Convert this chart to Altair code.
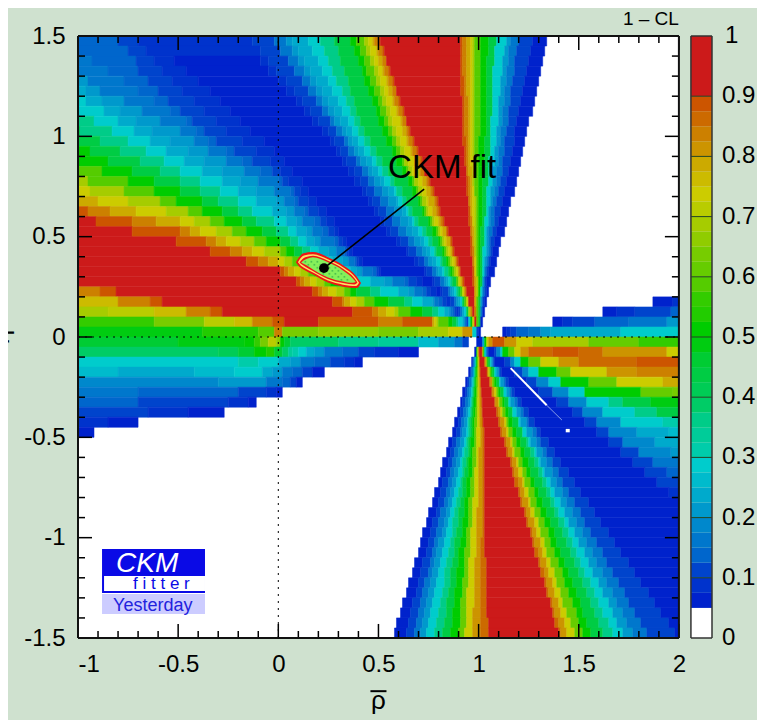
import re
import altair as alt
import numpy as np
import pandas as pd

FONT = "Liberation Sans"
BG = "#cfe1cf"

CODES = list("abcdefghijklmnopqrstuvwxyzABCDEFGHR")
COLORS = ["#0022cc","#0033cc","#0044cc","#0066cc","#0077cc","#0088cc","#0099cc","#00aacc","#00bbcc","#00cccc",
          "#00ccaa","#00cc99","#00cc88","#00cc66","#00cc55","#00cc44","#00cc33","#00cc11","#00cc00","#22cc00",
          "#33cc00","#55cc00","#66cc00","#77cc00","#90cc00","#a6cc00","#b9cc00","#cccc00","#ccbb00","#ccaa00",
          "#cc9400","#cc8000","#cc6a00","#cc5500","#cc1a1a"]
BAR_LOWS = [0.05+0.025*i for i in range(34)] + [0.9]
BAR_HIGHS = [0.05+0.025*(i+1) for i in range(34)] + [1.0]

# each row: level letter followed by the x (in hundredths) where that level ends; "." is white
ROWS = [
"d-80 c-70 b-13 c-2 e4 g7 h15 j21 m28 p36 s39 v43 z45 B47 D48 F50 H51 R91 H92 F94 D96 B97 z98 v101 s105 p109 j114 g116 e120 c127 a134",
"d-75 c-66 b-9 c1 e7 g10 h17 j23 m30 p38 s41 v44 z46 B49 D50 F52 H53 R91 H92 F94 D96 B97 z98 v101 s105 p108 j113 g115 e119 c126 a133",
"e-93 d-71 c-62 b-52 a-9 b-5 c5 e10 g13 h20 j25 m31 p40 s43 v46 z48 B50 D52 F54 H54 R91 H92 F94 D96 B97 z98 v101 s104 p108 j112 g115 e118 c125 a132",
"e-85 d-70 c-58 b-46 a-5 b-1 c8 e13 g16 h22 j27 m33 p42 s44 v48 z50 B52 D53 F55 H56 R91 H92 F94 D96 B97 z98 v101 s104 p107 j112 g114 e118 c124 a131",
"g-95 e-77 d-65 c-53 b-40 a0 b4 c12 e16 g19 h25 j29 m35 p43 s46 v49 z51 B54 D55 F57 H58 R91 H93 F94 D96 B97 z98 v101 s104 p107 j111 g114 e117 c123 a130",
"h-96 g-89 e-70 d-60 c-48 b-34 a4 b8 c15 e19 g22 h27 j32 m36 p45 s48 v51 z53 B55 D57 F59 H59 R91 H93 F94 D96 B97 z98 v101 s104 p107 j111 g113 e116 c122 a129",
"j-96 h-88 g-77 e-62 d-55 c-42 b-29 a9 b12 c19 e22 g25 h30 j34 m38 p47 s50 v52 z54 B57 D58 F60 H61 R92 H93 F95 D96 B97 z98 v101 s104 p107 j110 g113 e116 c121 a128",
"j-87 h-79 g-68 e-54 d-49 c-37 b-24 a13 b16 c22 e25 g28 h32 j36 m39 p49 s51 v54 z56 B59 D60 F62 H63 R92 H93 F95 D96 B97 z98 v101 s104 p107 j110 g112 e115 c120 a127",
"m-92 j-80 h-71 g-59 e-46 d-43 c-31 b-19 a17 b20 c26 e28 g31 h35 j38 m41 p50 s53 v55 z57 B61 D62 F64 H64 R92 H93 F95 D96 B97 z98 v101 s104 p106 j110 g112 e115 c119 a125",
"p-99 m-83 j-72 h-63 g-49 e-41 d-37 c-26 b-14 a22 b25 c29 e32 g34 h37 j40 m43 p52 s55 v57 z59 B62 D64 F65 H66 R92 H93 F95 D96 B97 z98 v101 s104 p106 j109 g111 e114 c118 a124",
"p-89 m-75 j-64 h-54 g-42 e-35 d-31 c-18 b-7 a26 b28 c33 e35 g37 h40 j43 m46 p54 s57 v59 z61 B64 D65 F67 H68 R92 H94 F95 D96 B97 z98 v100 s103 p106 j109 g111 e113 c118 a123",
"s-94 p-79 m-66 j-56 h-45 g-35 e-26 d-22 c-11 b-2 a29 b31 c35 e38 g40 h43 j46 m49 p57 s59 v61 z63 B66 D67 F69 H70 R93 H94 F95 D96 B97 z98 v100 s103 p106 j108 g110 e113 c117 a122",
"s-85 p-69 m-57 j-47 h-37 g-26 e-18 d-13 c-4 b3 a32 b34 c39 e41 g44 h47 j49 m52 p59 s62 v63 z65 B68 D69 F71 H72 R93 H94 F95 D96 B97 z98 v100 s103 p105 j108 g110 e112 c116 a121",
"v-88 s-73 p-59 m-49 j-38 h-28 g-17 e-9 d-3 c1 b7 a35 b38 c42 e45 g47 h50 j52 m55 p62 s64 v65 z67 B70 D71 F73 H73 R94 H94 F95 D97 B97 z98 v100 s103 p105 j107 g109 e112 c115 a120",
"z-95 v-75 s-62 p-49 m-39 j-28 h-19 g-10 e0 d2 c5 b12 a38 b41 c45 e48 g51 h53 j56 m58 p65 s67 v68 z70 B72 D74 F75 H76 R94 H95 F96 D97 B97 z98 v100 s102 p105 j107 g109 e111 c114 a119",
"B-94 z-77 v-62 s-49 p-39 m-29 j-20 h-11 g-2 e6 d8 c11 b15 a42 b44 c48 e52 g55 h58 j59 m62 p67 s69 v70 z72 B74 D76 F77 H78 R94 H95 F96 D97 B98 z98 v100 s102 p104 j106 g108 e110 c113 a118",
"D-90 B-75 z-59 v-51 s-38 p-30 m-20 j-11 h-1 g3 e8 d10 c15 b19 a45 b47 c51 e55 g59 h60 j62 m64 p70 s71 v72 z74 B75 D78 F79 H80 R95 H95 F96 D97 B98 z99 v100 s102 p104 j106 g107 e109 c112 a116",
"H-95 F-84 D-71 B-56 z-45 v-38 s-28 p-20 m-13 j-3 h4 g8 e13 d15 c20 b24 a48 b50 c54 e58 g62 h64 j65 m67 p72 s73 v74 z75 B77 D79 F80 H81 R95 H96 F96 D97 B98 z99 v100 s102 p104 j105 g106 e108 c111 a115",
"R-91 H-73 F-61 D-49 B-42 z-34 v-27 s-18 p-11 m-2 j4 h9 g12 e18 d21 c24 b28 a51 b53 c57 e61 g65 h67 j68 m70 p75 s76 v77 z78 B80 D81 F82 H83 R95 H96 F97 D97 B98 z99 v100 s102 p103 j105 g106 e108 c110 a114",
"R-73 H-49 F-44 D-39 B-31 z-23 v-16 s-8 p-1 m5 j9 h14 g17 e22 d25 c28 b30 a54 b56 c60 e64 g67 h70 j72 m74 p77 s79 v80 z81 B82 D84 F84 H85 R96 H96 F97 D98 B98 z99 v100 s101 p103 j104 g105 e107 c109 a113",
"R-51 H-36 F-31 D-26 B-19 z-12 v-6 s1 p6 m10 j14 h18 g21 e28 d30 c32 b34 a59 b61 c65 e68 g71 h73 j75 m77 p80 s81 v82 z83 B84 D86 F86 H87 R96 H97 F97 D98 B98 z99 v100 s101 p103 j104 g105 e106 c108 a111",
"R-34 H-24 F-18 D-13 B-7 z1 v4 s8 p12 m16 j20 h25 g29 e33 d34 c35 b37 a64 b65 c69 e72 g74 h76 j78 m79 p82 s83 v84 z85 B86 D87 F87 H88 R96 H97 F98 D98 B98 z99 v100 s101 p102 j104 g105 e106 c107 a110",
"R-16 H-10 F-5 D0 B3 z7 v11 s15 p19 m22 j27 h32 g35 e38 d39 c40 b42 a68 b70 c73 e75 g77 h79 j81 m82 p84 s85 v86 z87 B88 D89 F89 H90 R97 H97 F98 D98 B99 z99 v100 s101 p102 j103 g104 e105 c106 a109",
"R1 H3 F5 D8 B11 z15 v18 s23 p27 m30 j36 h39 g42 e47 d49 c50 b51 a73 b74 c77 e79 g80 h82 j83 m85 p86 s87 v88 z89 B90 D90 F91 H91 R97 H98 F98 D98 B99 z99 v100 s101 p102 j103 g103 e104 c105 a108",
"R9 H11 F13 D16 B19 z23 v26 s31 p34 m38 j46 h53 g57 e63 d65 c69 b72 a77 b78 c81 e83 g84 h85 j86 m87 p89 s89 v90 z90 B91 D92 F92 H93 R97 H98 F98 D99 B99 z100 v100 s101 p102 j102 g103 e103 c104 a106",
"F-89 H-81 R17 H20 F22 D25 B29 z33 v36 s39 p46 m51 j60 h65 g68 e72 d74 c76 b79 a81 b82 c85 e86 g87 h88 j89 m90 p91 s91 v92 z92 B93 D93 F94 H94 R98 H98 F98 D99 B99 z100 v100 s101 p101 j102 g102 e103 c104 a105",
"C-80 F-64 H-58 R27 H32 F33 D36 B39 z43 v48 s55 p63 m67 j72 h77 g78 e80 d82 c84 b86 c88 e89 g90 h91 j92 m92 p93 s93 v94 z94 B95 D95 F95 H95 R98 H98 F98 D99 B99 z99 v100 s100 p101 j101 g102 e102 c103 a104 .187 a197 b200",
"z-85 A-62 C-46 F-34 H-28 R37 H47 F50 D54 B58 z60 v66 s72 p77 m80 j83 h85 g86 e87 d88 c89 b90 c91 e92 g92 h93 j94 m94 p95 s95 v95 z96 B96 D96 F97 H97 R98 H98 F99 D99 B99 z99 v100 s100 p101 j101 g101 e102 c102 a103 .162 a169 b178 c196 d200",
"u-62 x-37 A-22 C-13 F-3 H3 R20 H50 F62 H77 D78 B79 z80 v85 s87 p89 m90 j92 h93 e94 c95 j96 s97 B98 R99 v100 p101 a102 .137 a142 b147 c158 d175 e194 g200",
"r-38 t-10 v-2 F2 x20 y50 x70 z85 B92 E97 j99 c100 a101 .112 a114 b116 c119 d125 e131 g136 h171 j200",
"q-50 r-17 s-12 u-9 x-5 A-1 y1 s3 q6 n30 m50 l70 i80 g88 e92 c95 .99 a102 h103 s104 B105 E107 H113 E119 B127 z155 w180 u200",
"n-30 o-20 q-12 s-6 t-2 q2 n5 l7 k10 j14 h18 g23 e32 d40 c48 b60 a70 .98 a99 s99.5 B100 E100.3 R101.8 E102.2 w102.7 s103 j103.8 e104.4 c105 a108 c109 f111 j112 s115 w118 B121 E125 G137 H150 G162 E194 B200",
"j-20 k-10 j0 h6 g11 e18 d26 c33 b38 a42 .96.5 a97 c97.5 e98 g98.4 j98.6 m98.9 p99.1 s99.5 w99.8 B100.2 E100.5 G100.7 R103 G103.3 E103.8 B104 w104.5 s105 p105.8 j106.3 g107 e107.5 c108 a113 c116 f118 j121 s125 w131 B140 E150 G179 H200",
"i-80 h-42 i-22 j-8 h-3 g2 e7 d12 c17 a23 .95 a95.8 c96.5 e97.2 g97.7 j98 m98.4 p98.8 s99.3 w99.8 B100.2 E100.7 G101 R104.2 G104.6 E105 B105.6 w106.3 s107 p108 j108.8 g110 e110.5 c111.5 a118 c122 f125 j130 s139 w146 B164 E179 F200",
"f-30 g-6 e2 d6 c9 a12 .93.5 a94.6 c95.5 e96.4 g97 j97.5 m98 p98.4 s99 w99.7 B100.3 E101 G101.2 R105.4 G106 E106.8 B107 w108 s109 p110.4 j111 g112.6 e113.5 c115 a124 c129 f135 j141 s155 w169 B192 D200",
"e-70 d-20 c-6 b-1 a2 .92 a93.5 c94.5 e95.6 g96.4 j97 m97.5 p98 s99 w99.6 B100.4 E101 G101.5 R106.6 G107 E108 B109 w110 s111 p112.6 j114 g115.4 e116.5 c118 a130 c137 f145 j153 s181 w197 x200",
"d-70 c-25 b-15 a-11 .91 a92 c93.5 e95 g96 j96.5 m97 p97.7 s98.7 w99.5 B100.5 E101.3 G101.8 R108 G108.5 E110 B110.4 w112 s113 p115 j116 g118 e119.5 c121.5 a139 c145 f154 j165 m172 p186 r200",
"c-65 b-45 a-27 .89.5 a91 c92.5 e94 g95 j96 m96.6 p97.4 s98.5 w99.5 B100.5 E101.5 G102 R109 G110 E111 B112 w113.5 s115 p117 j119 g121 e122.5 c125 a147 c152 f162 j178 m189 p200",
"b-85 a-70 .88 a90 c91.5 e93 g94.5 j95 m96 p97 s98 w99.4 B100.6 E101.7 G102.3 R110 G111 E113 B114 w115 s117 p120 j121 g124 e125 c128 a153 c159 f171 j192 k200",
"a-92 .87 a89 c91 e92 g94 j95 m96 p97 s98 w99 B101 E102 G103 R111 G112 E114 B115 w117 s119 p122 j124 g127 e129 c131 a159 c165 f179 h195 i200",
".85 a87 c89 e91 g93 j94 m95 p96 s98 w99 B101 E102 G103 R113 G114 E116 B117 w119 s121 p124 m125 j126 g129 e131 c135 a165 c172 f188 h200",
".84 a86 c88 e90 g92 j93 m95 p96 s97 w99 B100 E102 G103 R114 G115 E117 B118 w121 s123 p126 m128 j129 g132 e134 c138 a171 c180 f196 g200",
".82 a85 c87 e89 g91 j92 m94 p95 s97 w99 B100 E102 G103 R116 G117 E119 B120 w122 s125 p128 m130 j131 g134 e137 c141 a177 c187 e200",
".81 a84 c86 e88 g90 j92 m93 p95 s97 w98 B100 E102 G103 R117 G118 E120 B122 w124 s126 p130 m132 j133 g137 e140 c145 a183 c194 d200",
".80 a82 c85 e87 g89 j91 m92 p94 s96 w98 B100 E102 G103 R118 G120 E122 B123 w126 s128 p132 m134 j136 g139 e142 c148 a189 c200",
".78 a81 c84 e86 g88 j90 m92 p94 s96 w98 B100 E102 G103 R120 G121 E123 B125 w128 s130 p134 m136 j138 g142 e145 c151 a195 b200",
".77 a80 c83 e85 g87 j89 m91 p93 s95 w97 B100 E102 G103 R121 G122 E125 B126 w129 s132 p136 m138 j141 g144 e148 c155 a200",
".75 a79 c81 e84 g86 j88 m90 p93 s95 w97 B99 E102 G103 R123 G124 E126 B128 w131 s134 p138 m140 j143 g147 e151 c158 a200",
".74 a77 c80 e83 g85 j87 m90 p92 s95 w97 B99 E102 G103 R124 G125 E128 B130 w133 s136 p140 m143 j145 g149 e153 c161 a200",
".72 a76 c79 e82 g84 j87 m89 p92 s94 w96 B99 E102 G103 R126 G127 E129 B131 w135 s138 p142 m145 j148 g152 e156 c165 a200",
".71 a75 c78 e80 g83 j86 m88 p91 s94 w96 B99 E101 G103 R127 G128 E131 B133 w136 s139 p144 m147 j150 g154 e159 c168 a200",
".70 a74 c77 e79 g82 j85 m88 p90 s93 w96 B99 E101 G103 R128 G130 E132 B134 w138 s141 p146 m149 j153 g157 e162 c171 a200",
".68 a72 c76 e78 g81 j84 m87 p90 s93 w95 B98 E101 G104 R130 G131 E134 B136 w140 s143 p148 m151 j155 g159 e164 c175 a200",
".67 a71 c75 e77 g80 j83 m86 p89 s93 w95 B98 E101 G104 R131 G133 E135 B138 w142 s145 p150 m153 j157 g162 e167 c178 a200",
".65 a70 c73 e76 g79 j83 m86 p89 s92 w95 B98 E101 G104 R133 G134 E137 B139 w143 s147 p152 m156 j160 g164 e170 c181 a200",
".64 a69 c72 e75 g78 j82 m85 p88 s92 w94 B98 E101 G104 R134 G135 E138 B141 w145 s149 p154 m158 j162 g167 e173 c185 a200",
".62 a67 c71 e74 g77 j81 m84 p88 s91 w94 B98 E101 G104 R136 G137 E140 B142 w147 s151 p156 m160 j165 g169 e175 c188 a200",
".61 a66 c70 e73 g76 j80 m84 p87 s91 w94 B97 E101 G104 R137 G138 E141 B144 w149 s152 p158 m162 j167 g172 e178 c191 a200",
".59 a65 c69 e72 g75 j79 m83 p87 s91 w94 B97 E101 G105 R138 G140 E143 B146 w150 s154 p160 m165 j169 g174 e181 c195 a200",
".58 a64 c68 e71 g74 j78 m82 p86 s90 w93 B97 E101 G105 R140 G141 E144 B148 w152 s156 p162 m167 j172 g177 e184 c198 a200",
]

X_LABELS = [-1, -0.5, 0, 0.5, 1, 1.5, 2]
Y_LABELS = [-1.5, -1, -0.5, 0, 0.5, 1, 1.5]
X_MINOR = [-0.9,-0.8,-0.7,-0.6,-0.4,-0.3,-0.2,-0.1,0.1,0.2,0.3,0.4,0.6,0.7,0.8,0.9,1.1,1.2,1.3,1.4,1.6,1.7,1.8,1.9]
Y_MINOR = [-1.4,-1.3,-1.2,-1.1,-0.9,-0.8,-0.7,-0.6,-0.4,-0.3,-0.2,-0.1,0.1,0.2,0.3,0.4,0.6,0.7,0.8,0.9,1.1,1.2,1.3,1.4]
BAR_LABELS = ["0","0.1","0.2","0.3","0.4","0.5","0.6","0.7","0.8","0.9","1"]

# contour around the fit: x, upper and lower edge of each ring
RING_X = [[.088,.108,.123,.173,.248,.323,.393,.413],[.098,.113,.128,.173,.248,.323,.388,.403],
          [.106,.120,.135,.173,.248,.323,.380,.395],[.114,.128,.143,.173,.248,.323,.372,.387]]
RING_UP = [[.373,.403,.416,.423,.398,.358,.299,.269],[.372,.395,.406,.413,.388,.348,.293,.270],
           [.371,.388,.397,.405,.380,.340,.293,.272],[.370,.382,.390,.397,.372,.332,.292,.274]]
RING_LO = [[.373,.348,.338,.311,.271,.251,.244,.269],[.372,.355,.345,.321,.281,.261,.254,.270],
           [.371,.360,.350,.329,.289,.269,.262,.272],[.370,.364,.356,.337,.297,.277,.270,.274]]
RING_COL = ["#ee1515","#ffe066","#ee1515","#86f05a"]

xs = alt.Scale(domain=[-1, 2.1652], nice=False, zero=False)
ys = alt.Scale(domain=[-1.5, 1.5], nice=False, zero=False)
cs = alt.Scale(domain=CODES, range=COLORS)

x_axis = alt.Axis(values=X_LABELS, labelExpr="''+datum.value", ticks=False, domain=False, grid=False,
                  labelFont=FONT, labelFontSize=24, labelColor="black", labelPadding=14,
                  labelOverlap=False, title=None)
y_axis = alt.Axis(values=Y_LABELS, labelExpr="''+datum.value", ticks=False, domain=False, grid=False,
                  labelFont=FONT, labelFontSize=24, labelColor="black", labelPadding=13,
                  labelOverlap=False, title=None)


def X(f="x"):
    return alt.X(f, type="quantitative", scale=xs, axis=x_axis)


def Y(f="y"):
    return alt.Y(f, type="quantitative", scale=ys, axis=y_axis)


def rules(segs, color="black", width=1.5, dash=None):
    df = pd.DataFrame(segs, columns=["x", "y", "x2", "y2"])
    kw = {"strokeDash": dash} if dash else {}
    return alt.Chart(df).mark_rule(color=color, strokeWidth=width, **kw).encode(
        X(), Y(), x2=alt.X2("x2"), y2=alt.Y2("y2"))


def box(x0, x1, y0, y1, color):
    df = pd.DataFrame({"x": [x0], "x2": [x1], "y": [y0], "y2": [y1]})
    return alt.Chart(df).mark_rect(color=color).encode(X(), Y(), x2=alt.X2("x2"), y2=alt.Y2("y2"))


def txt(s, x, y, size, color="black", align="left", baseline="alphabetic", **kw):
    df = pd.DataFrame({"x": [x], "y": [y], "t": [s]})
    return alt.Chart(df).mark_text(font=FONT, fontSize=size, color=color, align=align,
                                   baseline=baseline, **kw).encode(X(), Y(), text="t:N")


# heat map cells
cells = []
for i, row in enumerate(ROWS):
    top = 1.5 - 0.05 * i
    prev = -1.0
    for lv, end in re.findall(r"([.a-zA-Z])(-?\d+(?:\.\d+)?)", row):
        e = float(end) / 100
        if e > prev and lv != ".":
            cells.append({"x": prev, "x2": e, "y": top, "y2": top - 0.05, "lv": lv})
        prev = max(prev, e)
cells = pd.DataFrame(cells)

base = box(-1, 2, -1.5, 1.5, "white")

heat = alt.Chart(cells).mark_rect(strokeWidth=0.5).encode(
    X(), Y(), x2=alt.X2("x2"), y2=alt.Y2("y2"),
    color=alt.Color("lv:N", scale=cs, legend=None),
    stroke=alt.Stroke("lv:N", scale=cs, legend=None),
)

layers = [base, heat]

# white streak and specks of failed points
layers.append(rules([[1.16, -.155, 1.34, -.34]], "white", 2))
layers.append(rules([[1.34, -.34, 1.416, -.414]], "#aabbee", 0.8))
layers.append(box(1.435, 1.455, -.475, -.458, "white"))

# dotted zero lines
layers.append(rules([[0, -1.5, 0, 1.5]], "black", 1, [2, 5]))
layers.append(rules([[-1, 0, 2, 0]], "black", 1, [2, 5]))

# confidence contours
for rx, up, lo, col in zip(RING_X, RING_UP, RING_LO, RING_COL):
    df = pd.DataFrame({"x": rx, "y": up, "y2": lo})
    layers.append(alt.Chart(df).mark_area(color=col, interpolate="monotone", opacity=1).encode(
        X(), Y(), y2=alt.Y2("y2")))

dots = []
gx, gu, gl = RING_X[3], RING_UP[3], RING_LO[3]
for r, yy in enumerate(np.arange(.27, .40, .015)):
    for xx in np.arange(.12 + (r % 2) * .015, .385, .03):
        if np.interp(xx, gx, gl) + .005 < yy < np.interp(xx, gx, gu) - .005:
            dots.append({"x": float(xx), "y": float(yy)})
layers.append(alt.Chart(pd.DataFrame(dots)).mark_square(size=3, color="#4fc24f", opacity=1).encode(X(), Y()))

# fit marker and label
layers.append(alt.Chart(pd.DataFrame({"x": [.228, .728], "y": [.343, .737]})).mark_line(
    color="black", strokeWidth=1.6).encode(X(), Y()))
layers.append(alt.Chart(pd.DataFrame({"x": [.228], "y": [.343]})).mark_circle(
    size=95, color="black", opacity=1).encode(X(), Y()))
layers.append(txt("CKM fit", .548, .792, 33))

# ticks on all four sides
segs = []
for v in X_MINOR:
    segs += [[v, -1.5, v, -1.465], [v, 1.5, v, 1.465]]
for v in X_LABELS:
    segs += [[v, -1.5, v, -1.43], [v, 1.5, v, 1.43]]
for v in Y_MINOR:
    segs += [[-1, v, -.965, v], [2, v, 1.965, v]]
for v in Y_LABELS:
    segs += [[-1, v, -.93, v], [2, v, 1.93, v]]
layers.append(rules(segs, "black", 1.5))
layers.append(rules([[-1, -1.5, 2, -1.5], [-1, 1.5, 2, 1.5], [-1, -1.5, -1, 1.5], [2, -1.5, 2, 1.5]], "#111111", 2))

# logo
layers.append(box(-.88, -.366, -1.276, -1.056, "#0a0ae6"))
layers.append(box(-.87, -.366, -1.266, -1.191, "white"))
layers.append(box(-.88, -.366, -1.38, -1.281, "#ccccff"))
layers.append(txt("CKM", -.81, -1.17, 28, "white", fontStyle="italic"))
layers.append(txt("f i t t e r", -.725, -1.255, 17, "#0a0ae6"))
layers.append(txt("Yesterday", -.825, -1.365, 18, "#2222dd"))

# colour bar
bx0, bx1 = 2.06, 2.1652
bar = pd.DataFrame({"x": bx0, "x2": bx1,
                    "y": [-1.5 + 3 * v for v in BAR_LOWS],
                    "y2": [-1.5 + 3 * v for v in BAR_HIGHS],
                    "lv": CODES})
layers.append(box(bx0, bx1, -1.5, -1.35, "white"))
layers.append(alt.Chart(bar).mark_rect().encode(
    X(), Y(), x2=alt.X2("x2"), y2=alt.Y2("y2"), color=alt.Color("lv:N", scale=cs, legend=None)))
bar_seg = [[bx0, -1.5 + .3 * i, bx1, -1.5 + .3 * i] for i in range(1, 10)]
layers.append(rules(bar_seg, "#224422", 1))
layers.append(rules([[bx0, -1.5, bx1, -1.5], [bx0, 1.5, bx1, 1.5], [bx0, -1.5, bx0, 1.5], [bx1, -1.5, bx1, 1.5]],
                    "#333333", 1.5))
for i, lab in enumerate(BAR_LABELS):
    layers.append(txt(lab, 2.215 + (0.015 if lab == "1" else 0), -1.5 + .3 * i, 24, baseline="middle"))

layers.append(txt("1 \u2013 CL", 2.0, 1.555, 19, align="right"))

# axis titles
layers.append(txt("\u03c1", .5, -1.855, 26, align="center"))
layers.append(rules([[.46, -1.765, .54, -1.765]], "black", 2))
layers.append(txt("\u03b7", -1.345, 0, 26, align="center", angle=270))

chart = alt.layer(*layers).properties(
    width=634, height=602,
    padding={"left": 70, "top": 28, "right": 45, "bottom": 82},
    autosize=alt.AutoSizeParams(type="none"),
    background=BG,
).configure_view(strokeWidth=0)

chart.save("out.html", embed_options={"renderer": "svg", "actions": False})
